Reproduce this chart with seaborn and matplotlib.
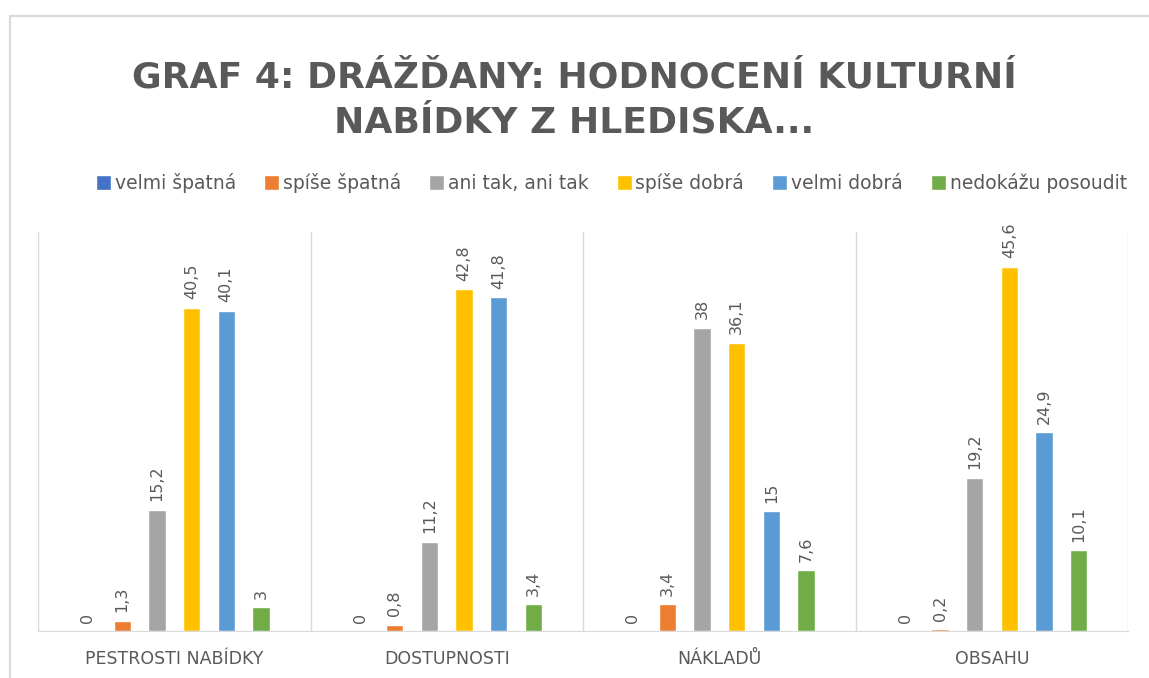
import pandas as pd
import seaborn as sns
import matplotlib.pyplot as plt
from matplotlib.patches import Rectangle

kategorie = ['PESTROSTI NABÍDKY', 'DOSTUPNOSTI', 'NÁKLADŮ', 'OBSAHU']
hodnoceni = ['velmi špatná', 'spíše špatná', 'ani tak, ani tak',
             'spíše dobrá', 'velmi dobrá', 'nedokážu posoudit']
barvy = ['#4472C4', '#ED7D31', '#A5A5A5', '#FFC000', '#5B9BD5', '#70AD47']

velmi_spatna = [0, 0, 0, 0]
spise_spatna = [1.3, 0.8, 3.4, 0.2]
ani_tak = [15.2, 11.2, 38, 19.2]
spise_dobra = [40.5, 42.8, 36.1, 45.6]
velmi_dobra = [40.1, 41.8, 15, 24.9]
nedokazu = [3, 3.4, 7.6, 10.1]

serie = [velmi_spatna, spise_spatna, ani_tak, spise_dobra, velmi_dobra, nedokazu]
rows = []
for h, vals in zip(hodnoceni, serie):
    for k, v in zip(kategorie, vals):
        rows.append({'kategorie': k, 'hodnoceni': h, 'hodnota': v})
df = pd.DataFrame(rows)

sns.set_style('white')
plt.rcParams['font.family'] = ['DejaVu Sans']
seda = '#595959'

fig = plt.figure(figsize=(11.49, 6.78), dpi=100)
ax = fig.add_axes([0.033, 0.0693, 0.949, 0.589])

sns.barplot(data=df, x='kategorie', y='hodnota', hue='hodnoceni',
            hue_order=hodnoceni, order=kategorie, palette=barvy,
            width=0.763, gap=0.5, ax=ax, saturation=1)

for cont in ax.containers:
    labels = [f'{v:g}'.replace('.', ',') for v in cont.datavalues]
    ax.bar_label(cont, labels=labels, rotation=90, padding=6,
                 fontsize=11.5, color=seda)

ax.set_ylim(0, 50)
ax.set_xlim(-0.5, 3.5)
ax.set_yticks([])
ax.set_xlabel('')
ax.set_ylabel('')
for x in [-0.5, 0.5, 1.5, 2.5, 3.5]:
    ax.axvline(x, color='#d9d9d9', lw=1, zorder=0)
for s in ['top', 'right', 'left']:
    ax.spines[s].set_visible(False)
ax.spines['bottom'].set_color('#d9d9d9')
ax.tick_params(axis='x', length=0, pad=14, labelsize=12.5, labelcolor=seda)

handles, labs = ax.get_legend_handles_labels()
ax.legend_.remove()
fig.legend(handles, labs, loc='center', bbox_to_anchor=(0.532, 0.73),
           ncol=6, frameon=False, fontsize=13.5, labelcolor=seda,
           handlelength=0.8, handleheight=0.8, handletextpad=0.2,
           columnspacing=1.5)

fig.text(0.5, 0.885, 'GRAF 4: DRÁŽĎANY: HODNOCENÍ KULTURNÍ', ha='center',
         va='center', fontsize=26, fontweight='bold', color=seda)
fig.text(0.5, 0.82, 'NABÍDKY Z HLEDISKA...', ha='center',
         va='center', fontsize=26, fontweight='bold', color=seda)

fig.patches.append(Rectangle((10 / 1149, -0.05), 1.1, 1 - 16 / 678 + 0.05,
                             transform=fig.transFigure, fill=False,
                             edgecolor='#d9d9d9', lw=1.5))

fig.savefig('out.png', dpi=100)
